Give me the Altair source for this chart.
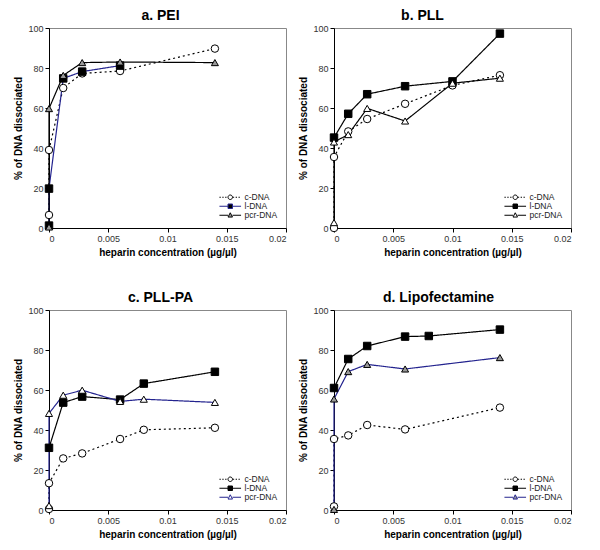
import altair as alt
import pandas as pd

# ---------------- data ----------------
SERIES = ["c-DNA", "l-DNA", "pcr-DNA"]
TITLES = ["a. PEI", "b. PLL", "c. PLL-PA", "d. Lipofectamine"]

# panel a: PEI
a_c_x = [0, 0, 0.0012, 0.0028, 0.006, 0.014]
a_c_y = [6.5, 39, 70, 77.3, 78.5, 89.7]
a_l_x = [0, 0, 0.0012, 0.0028, 0.006]
a_l_y = [1.2, 19.7, 74.8, 78.2, 81.2]
a_p_x = [0, 0, 0.0012, 0.0028, 0.006, 0.014]
a_p_y = [0.5, 59.7, 76.3, 82.7, 83.0, 82.7]

# panel b: PLL
b_c_x = [0, 0, 0.0012, 0.0028, 0.006, 0.010, 0.014]
b_c_y = [0, 35.5, 48.3, 54.5, 62.1, 71.3, 76.4]
b_l_x = [0, 0.0012, 0.0028, 0.006, 0.010, 0.014]
b_l_y = [45.2, 57.1, 66.9, 70.9, 73.3, 97.2]
b_p_x = [0, 0, 0.0012, 0.0028, 0.006, 0.010, 0.014]
b_p_y = [2.7, 43.0, 46.7, 59.8, 53.5, 72.4, 74.9]

# panel c: PLL-PA
c_c_x = [0, 0, 0.0012, 0.0028, 0.006, 0.008, 0.014]
c_c_y = [0.5, 13.4, 25.8, 28.3, 35.5, 40.1, 41.1]
c_l_x = [0, 0.0012, 0.0028, 0.006, 0.008, 0.014]
c_l_y = [31.1, 53.7, 56.7, 55.2, 63.2, 69.1]
c_p_x = [0, 0, 0.0012, 0.0028, 0.006, 0.008, 0.014]
c_p_y = [2.2, 48.3, 57.4, 59.9, 54.3, 55.4, 53.8]

# panel d: Lipofectamine
d_c_x = [0, 0, 0.0012, 0.0028, 0.006, 0.014]
d_c_y = [1.8, 35.5, 37.3, 42.5, 40.3, 51.2]
d_l_x = [0, 0.0012, 0.0028, 0.006, 0.008, 0.014]
d_l_y = [61.0, 75.5, 82.0, 86.7, 87.0, 90.2]
d_p_x = [0, 0, 0.0012, 0.0028, 0.006, 0.014]
d_p_y = [0.3, 55.5, 69.2, 72.8, 70.5, 76.2]

X_TICKS = [0, 0.005, 0.01, 0.015, 0.02]
Y_TICKS = [0, 20, 40, 60, 80, 100]

# ---------------- styles ----------------
BLUE = "#24248f"
GRAY = "#9a9a9a"
LINE_COLORS = {
    "a": ["black", BLUE, "black"],
    "b": ["black", "black", "black"],
    "c": ["black", "black", BLUE],
    "d": ["black", "black", BLUE],
}
TRI_FILL = {"a": GRAY, "b": "white", "c": "white", "d": GRAY}
TITLE_DX = {"a": -7, "b": -30, "c": -7, "d": -14}

panels = {
    "a": [(a_c_x, a_c_y), (a_l_x, a_l_y), (a_p_x, a_p_y)],
    "b": [(b_c_x, b_c_y), (b_l_x, b_l_y), (b_p_x, b_p_y)],
    "c": [(c_c_x, c_c_y), (c_l_x, c_l_y), (c_p_x, c_p_y)],
    "d": [(d_c_x, d_c_y), (d_l_x, d_l_y), (d_p_x, d_p_y)],
}


def seg_path(marker, dotted):
    L = 3.6
    m = 0.75
    parts = []
    if dotted:
        for (s, e) in [(-L, -L + 0.45), (-L + 0.95, -L + 1.4), (-L + 1.9, -L + 2.35),
                       (m + 0.1, m + 0.55), (m + 1.05, m + 1.5), (m + 2.0, m + 2.45)]:
            parts.append(f"M{s:.2f},0L{e:.2f},0")
    else:
        parts.append(f"M{-L},0L{-m},0M{m},0L{L},0")
    if marker == "circle":
        parts.append(f"M{m},0A{m},{m} 0 1,1 {-m},0A{m},{m} 0 1,1 {m},0Z")
    elif marker == "square":
        parts.append(f"M{-m},{-m}L{m},{-m}L{m},{m}L{-m},{m}Z")
    else:
        parts.append(f"M0,{-m * 1.1}L{m},{m * 0.8}L{-m},{m * 0.8}Z")
    return "".join(parts)


LEGEND_SHAPES = [seg_path("circle", True), seg_path("square", False), seg_path("triangle", False)]
MARK_SHAPES = ["circle", "square", "triangle-up"]

FONT = "Liberation Sans"

xscale = alt.Scale(domain=[0, 0.02], nice=False, zero=False)
yscale = alt.Scale(domain=[0, 100], nice=False)


def make_panel(key, title):
    rows = []
    for si, (xs, ys) in enumerate(panels[key]):
        for i, (xv, yv) in enumerate(zip(xs, ys)):
            rows.append({"series": SERIES[si], "x": xv, "y": yv, "idx": i})
    df = pd.DataFrame(rows)
    base = alt.Chart(df)
    x_enc = alt.X("x:Q", scale=xscale,
                  axis=alt.Axis(values=X_TICKS, format="~g",
                                title="heparin concentration (\u00b5g/\u00b5l)"))
    y_enc = alt.Y("y:Q", scale=yscale,
                  axis=alt.Axis(values=Y_TICKS, title="% of DNA dissociated"))
    layers = []
    fills = ["white", "black", TRI_FILL[key]]
    for si, s in enumerate(SERIES):
        dash = [2, 3] if si == 0 else [1, 0]
        line = base.mark_line(color=LINE_COLORS[key][si], strokeWidth=1.2,
                              strokeDash=dash, clip=False).encode(
            x=x_enc, y=y_enc, order="idx:Q"
        ).transform_filter(alt.datum.series == s)
        layers.append(line)
    for si, s in enumerate(SERIES):
        pt = base.mark_point(shape=MARK_SHAPES[si], filled=False, fill=fills[si],
                             fillOpacity=1, stroke="black", strokeWidth=1,
                             size=56 if si != 2 else 50, opacity=1, clip=False).encode(
            x=x_enc, y=y_enc
        ).transform_filter(alt.datum.series == s)
        layers.append(pt)

    leg = alt.Legend(title=None, orient="none", legendX=177, legendY=165,
                     symbolSize=36, symbolStrokeWidth=1, labelFontSize=8.5,
                     labelFont=FONT, labelColor="#222", labelOffset=10,
                     rowPadding=-1, padding=0, symbolOpacity=1)
    legend_layer = base.mark_point(filled=False, opacity=1).encode(
        x=x_enc, y=y_enc,
        shape=alt.Shape("series:N", scale=alt.Scale(domain=SERIES, range=LEGEND_SHAPES), legend=leg),
        fill=alt.Fill("series:N", scale=alt.Scale(domain=SERIES, range=fills), legend=leg),
        stroke=alt.Stroke("series:N", scale=alt.Scale(domain=SERIES, range=LINE_COLORS[key]), legend=leg),
    ).transform_filter("false")
    layers.append(legend_layer)

    return alt.layer(*layers).properties(
        width=237, height=200,
        title=alt.Title(title, fontSize=14, font=FONT, fontWeight="bold",
                        anchor="middle", frame="group", dx=TITLE_DX[key], dy=-5,
                        offset=-4),
    )


pa = make_panel("a", TITLES[0])
pb = make_panel("b", TITLES[1])
pc = make_panel("c", TITLES[2])
pd_ = make_panel("d", TITLES[3])

res = dict(shape="independent", fill="independent", stroke="independent")

top = alt.hconcat(pa, pb, spacing=11).resolve_scale(**res).resolve_legend(**res)
bottom = alt.hconcat(pc, pd_, spacing=11).resolve_scale(**res).resolve_legend(**res)

chart = alt.vconcat(top, bottom, spacing=32).resolve_scale(**res).resolve_legend(**res).properties(
    padding={"left": 5, "top": 0, "right": 0, "bottom": 0}
).configure_view(
    stroke="#888888", strokeWidth=1
).configure_axis(
    domainColor="black", tickColor="black", tickSize=4, labelFont=FONT, labelFontSize=9,
    labelColor="#333", titleFont=FONT, titleFontSize=10, titleFontWeight="bold",
    titleColor="black", grid=False, labelPadding=2
).configure_axisY(titlePadding=4).configure_axisX(titlePadding=4)

chart.save("out.html", embed_options={"renderer": "svg", "actions": False})
